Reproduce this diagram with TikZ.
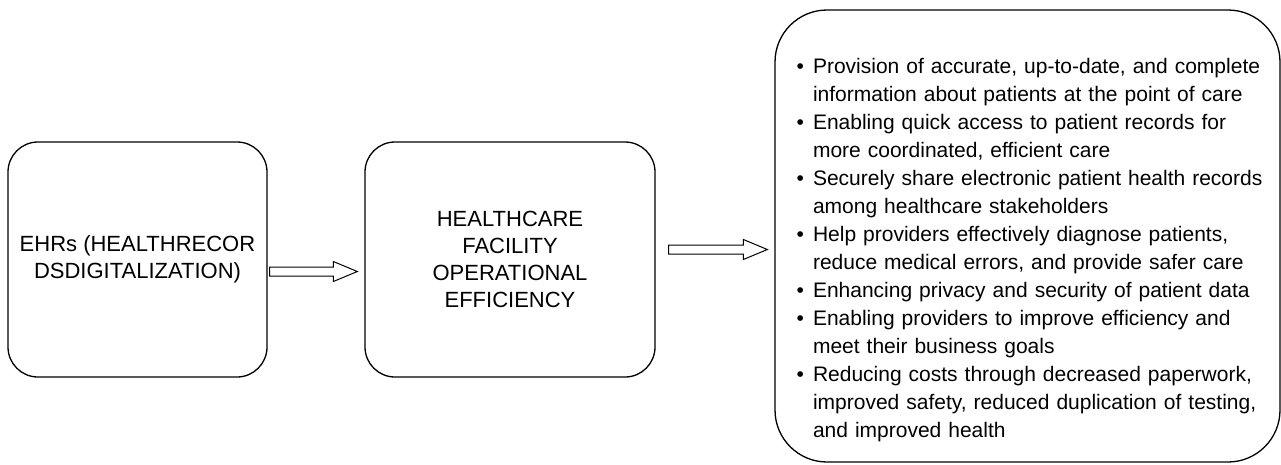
\documentclass[tikz,border=0pt]{standalone}
\usepackage{fontspec}
\setmainfont{Liberation Sans}
\usepackage{enumitem}
\usetikzlibrary{calc}

% hollow block arrow between two points (drawn at the height of the first one)
\newcommand{\hollowarrow}[2]{%
  \draw[flowarrow] let \p1=(#1), \p2=(#2) in
    (\x1,{\y1+4.5pt}) -- ({\x2-24pt},{\y1+4.5pt}) -- ({\x2-24pt},{\y1+10pt})
    -- (\x2,\y1) -- ({\x2-24pt},{\y1-10pt}) -- ({\x2-24pt},{\y1-4.5pt})
    -- (\x1,{\y1-4.5pt}) -- cycle;}

\begin{document}
\begin{tikzpicture}[
    x=1pt, y=-1pt,
    stage/.style={rectangle, rounded corners=30pt, draw=black, line width=1.3pt,
        minimum width=#1, minimum height=235pt, align=center, inner sep=0pt,
        font=\fontsize{22}{27}\selectfont},
    outcome/.style={rectangle, rounded corners=52pt, draw=black, line width=1.3pt,
        minimum width=505pt, minimum height=452pt},
    bullets/.style={text width=475pt, align=left, inner sep=0pt,
        font=\fontsize{21}{28}\selectfont},
    flowarrow/.style={draw=black, line width=1pt, fill=white},
]
\useasboundingbox (0,0) rectangle (1281,464);

% ---- Boxes ----
\node[stage=259pt] (ehr) at (137.5,259.5)
    {EHRs (HEALTHRECOR\\DSDIGITALIZATION)};
\node[stage=290pt] (eff) at (510,259.5)
    {HEALTHCARE\\FACILITY\\OPERATIONAL\\EFFICIENCY};
\node[outcome] (ben) at (1027.5,236) {};

% ---- Benefit list, a little below the centre of its box ----
\node[bullets] (benlist) at ($(ben.center)+(3,8)$) {%
  \begin{itemize}[nosep, leftmargin=20pt, labelsep=9pt]
    \item Provision of accurate, up-to-date, and complete\\
          information about patients at the point of care
    \item Enabling quick access to patient records for\\
          more coordinated, efficient care
    \item Securely share electronic patient health records\\
          among healthcare stakeholders
    \item Help providers effectively diagnose patients,\\
          reduce medical errors, and provide safer care
    \item Enhancing privacy and security of patient data
    \item Enabling providers to improve efficiency and\\
          meet their business goals
    \item Reducing costs through decreased paperwork,\\
          improved safety, reduced duplication of testing,\\
          and improved health
  \end{itemize}};

% ---- Arrows between boxes ----
\hollowarrow{$(ehr.east)+(2,12)$}{$(eff.west)+(-7,12)$}
\hollowarrow{$(eff.east)+(13,-10)$}{$(ben.west)+(-7,13.5)$}

\end{tikzpicture}
\end{document}
